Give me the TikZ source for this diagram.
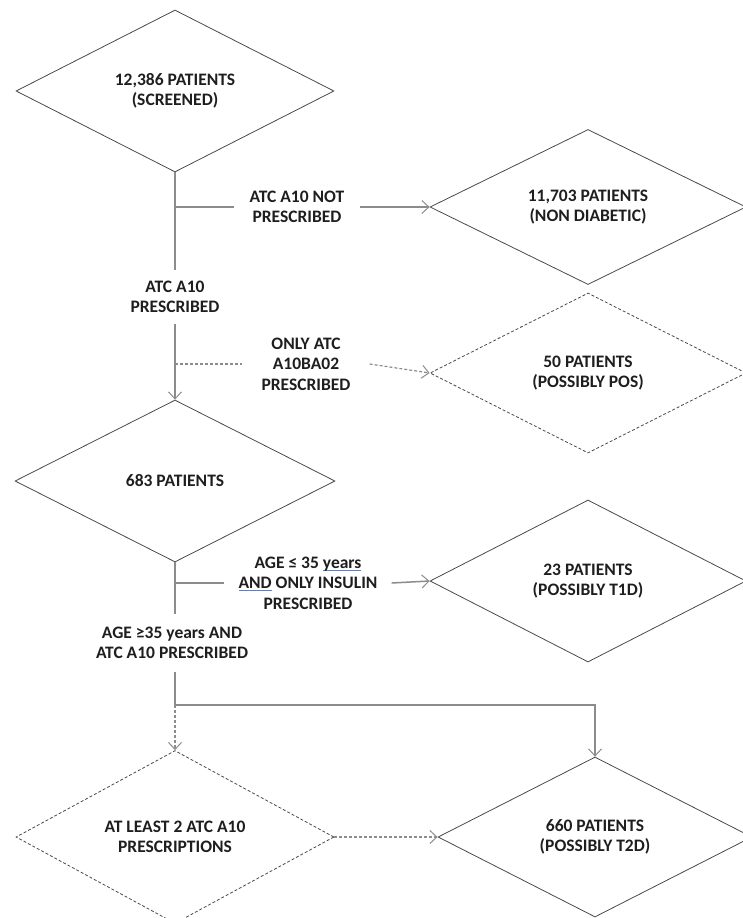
\documentclass[tikz,border=0pt]{standalone}
\usepackage{fontspec}
\setmainfont{Carlito}
\usetikzlibrary{shapes.geometric,arrows.meta}
\definecolor{boxline}{HTML}{4A4A4A}
\definecolor{conline}{HTML}{8C8C8C}
\definecolor{txt}{HTML}{1E1E1E}
\definecolor{spell}{HTML}{5A7FD6}
\newcommand\spellmark[1]{\setbox0\hbox{#1}\rlap{\color{spell}\rule[-2.5pt]{\wd0}{0.9pt}}\box0\relax}
\begin{document}
\begin{tikzpicture}[x=1pt,y=-1pt,
  every node/.style={font=\bfseries\fontsize{17.5}{20.5}\selectfont, text=txt, align=center},
  dbox/.style={draw=boxline, line width=0.8pt, diamond, inner sep=0pt, minimum width=#1},
  dashedbox/.style={dash pattern=on 3pt off 2pt},
  conn/.style={draw=conline, line width=1.5pt},
  dconn/.style={conn, line width=1.2pt, dash pattern=on 3pt off 2pt},
  tip/.style={-{Straight Barb[length=7pt,width=13pt,line width=1pt]}},
  lab/.style={inner ysep=2pt}
]
\useasboundingbox (0,0) rectangle (743,918);
% diamonds
\node[dbox=318pt, minimum height=162pt] (d1) at (175,91) {12,386 PATIENTS\\(SCREENED)};
\node[dbox=316pt, minimum height=152pt] (d2) at (588,207) {11,703 PATIENTS\\(NON DIABETIC)};
\node[dbox=316pt, minimum height=160pt, dashedbox] (d3) at (588,373) {50 PATIENTS\\(POSSIBLY POS)};
\node[dbox=320pt, minimum height=162pt] (d4) at (175,481) {683 PATIENTS};
\node[dbox=316pt, minimum height=162pt] (d5) at (588,581) {23 PATIENTS\\(POSSIBLY T1D)};
\node[dbox=318pt, minimum height=160pt, dashedbox] (d6) at (175,837) {AT LEAST 2 ATC A10\\PRESCRIPTIONS};
\node[dbox=314pt, minimum height=160pt] (d7) at (595,837) {660 PATIENTS\\(POSSIBLY T2D)};
% labels
\node[lab, inner xsep=15pt] (l1) at (297,207) {ATC A10 NOT\\PRESCRIBED};
\node[inner xsep=4pt, inner ysep=11pt] (l2) at (175,297) {ATC A10\\PRESCRIBED};
\node[lab, inner xsep=19pt] (l3) at (306,364) {ONLY ATC\\A10BA02\\PRESCRIBED};
\node[lab, inner xsep=14pt] (l4) at (308,583) {AGE ≤ 35 \spellmark{years}\\\spellmark{AND} ONLY INSULIN\\PRESCRIBED};
\node[inner xsep=4pt, inner ysep=13pt] (l5) at (172,643) {AGE ≥35 years AND\\ATC A10 PRESCRIBED};
% branch coordinates
\coordinate (b1) at (d1.south |- l1.west);
\coordinate (b2) at (d1.south |- l3.west);
\coordinate (b3) at (d4.south |- l4.west);
\coordinate (j) at (175,705);
% connectors
\draw[conn] (d1.south) -- (l2.north);
\draw[conn] (b1) -- (l1.west);
\draw[conn, tip] (l1.east) -- (d2.west);
\draw[conn, tip] (l2.south) -- (d4.north);
\draw[dconn] (b2) -- (l3.west);
\draw[dconn, tip] (l3.east) -- (d3.west);
\draw[conn] (d4.south) -- (d4.south |- l5.north);
\draw[conn] (b3) -- (l4.west);
\draw[conn, tip] (l4.east) -- (d5.west);
\draw[conn] (j |- l5.south) -- (j);
\draw[conn, tip] (j) -| (d7.north);
\draw[dconn, tip] (j) -- (d6.north);
\draw[dconn, tip] (d6.east) -- (d7.west);
\end{tikzpicture}
\end{document}
